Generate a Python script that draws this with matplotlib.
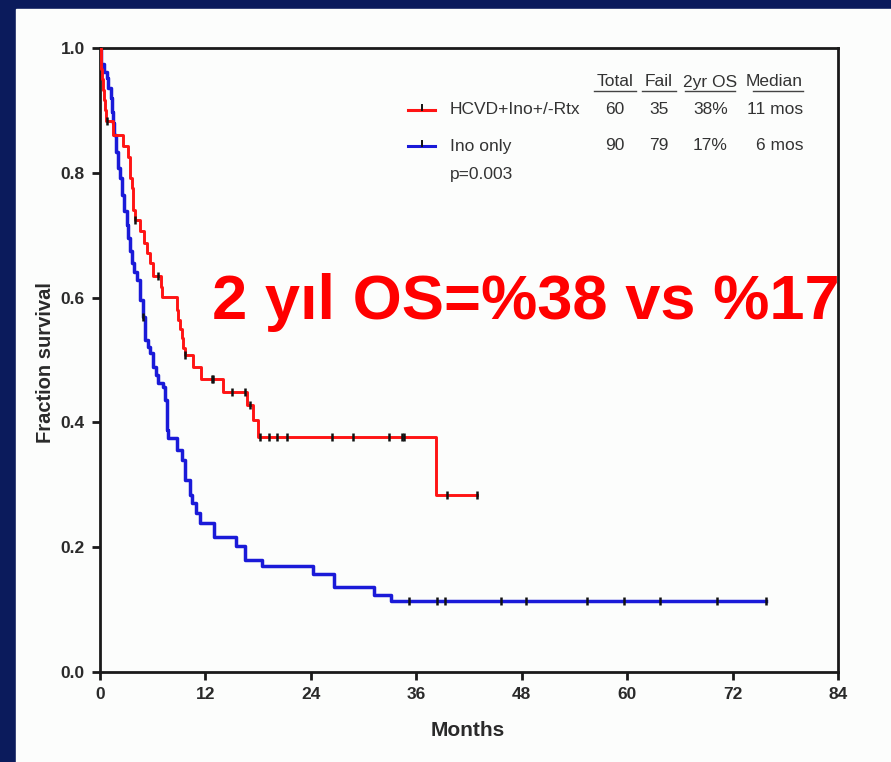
import matplotlib
matplotlib.use("Agg")
import matplotlib.pyplot as plt
from matplotlib.patches import Rectangle
from matplotlib.lines import Line2D

# HCVD+Ino+/-Rtx (red) step curve: time in months, survival after each step
red_time = [0, 0.06, 0.14, 0.23, 0.34, 0.46, 0.57, 0.66, 1.45, 2.65, 3.24, 3.36, 3.47,
            3.59, 3.70, 3.81, 3.93, 4.55, 5.01, 5.32, 5.69, 6.07, 6.91, 7.02, 8.73, 8.88,
            9.11, 9.28, 9.45, 9.62, 10.62, 11.50, 13.97, 16.70, 17.45, 17.98, 38.24, 42.91]
red_surv = [1.0, 0.983, 0.967, 0.95, 0.933, 0.917, 0.90, 0.883, 0.861, 0.843, 0.826, 0.809, 0.792,
            0.775, 0.758, 0.741, 0.724, 0.706, 0.687, 0.671, 0.655, 0.634, 0.617, 0.601, 0.58, 0.564,
            0.55, 0.535, 0.52, 0.508, 0.489, 0.470, 0.449, 0.428, 0.404, 0.377, 0.284, 0.284]
red_cens_t = [0.76, 3.98, 6.64, 9.67, 12.71, 12.90, 14.99, 16.50, 17.07, 18.21, 19.27, 20.11,
              21.25, 26.44, 28.83, 32.89, 34.41, 34.60, 39.50, 42.91]
red_cens_s = [0.883, 0.724, 0.634, 0.508, 0.470, 0.470, 0.449, 0.449, 0.428, 0.377, 0.377, 0.377,
              0.377, 0.377, 0.377, 0.377, 0.377, 0.377, 0.284, 0.284]

# Ino only (blue)
blue_time = [0, 0.06, 0.49, 0.76, 0.94, 1.25, 1.40, 1.51, 1.63, 1.79, 2.01, 2.28, 2.47, 2.77,
             3.04, 3.22, 3.41, 3.61, 3.87, 4.18, 4.55, 4.93, 5.12, 5.41, 5.69, 6.07, 6.37, 6.64,
             7.20, 7.40, 7.59, 7.68, 7.77, 8.73, 9.30, 9.67, 10.24, 10.47, 10.96, 11.34, 12.92,
             15.47, 16.54, 18.39, 24.30, 26.67, 31.17, 33.17, 75.86]
blue_surv = [1.0, 0.975, 0.962, 0.952, 0.936, 0.920, 0.898, 0.880, 0.861, 0.834, 0.807, 0.791,
             0.764, 0.738, 0.716, 0.695, 0.675, 0.655, 0.641, 0.628, 0.596, 0.569, 0.532, 0.521,
             0.511, 0.489, 0.476, 0.463, 0.457, 0.436, 0.414, 0.388, 0.375, 0.356, 0.340, 0.308,
             0.284, 0.271, 0.255, 0.238, 0.216, 0.202, 0.179, 0.170, 0.157, 0.136, 0.123, 0.113, 0.113]
blue_cens_t = [4.95, 35.12, 38.36, 39.27, 45.64, 48.45, 55.43, 59.61, 63.70, 70.19, 75.86]
blue_cens_s = [0.569, 0.113, 0.113, 0.113, 0.113, 0.113, 0.113, 0.113, 0.113, 0.113, 0.113]

x_ticks = [0, 12, 24, 36, 48, 60, 72, 84]
y_ticks = [0.0, 0.2, 0.4, 0.6, 0.8, 1.0]

header = ["Total", "Fail", "2yr OS", "Median"]
row_names = ["HCVD+Ino+/-Rtx", "Ino only"]
row_vals = [["60", "35", "38%", "11 mos"], ["90", "79", "17%", "6 mos"]]
p_text = "p=0.003"
big_text = "2 yıl OS=%38 vs %17"

W, H = 891, 762
plt.rcParams["font.family"] = ["Liberation Sans", "DejaVu Sans"]

fig = plt.figure(figsize=(W / 100, H / 100), dpi=100, facecolor="#0b1b5c")
fig.patches.append(Rectangle((16 / W, 0), 1, 1 - 9 / H, transform=fig.transFigure,
                             color="#fcfdfc", zorder=-5))

def fx(px):
    return px / W

def fy(py):
    return 1 - py / H

ax = fig.add_axes([fx(100), fy(672), (838 - 100) / W, (672 - 48) / H])
ax.set_facecolor("#fcfdfc")

ax.step(red_time, red_surv, where="post", color="#ff1414", lw=2.1, zorder=3)
ax.step(blue_time, blue_surv, where="post", color="#1a1ad8", lw=2.5, zorder=2)
ax.plot(red_cens_t, red_cens_s, ls="none", marker="|", ms=6, mew=1.8, color="#111111", zorder=4)
ax.plot(blue_cens_t, blue_cens_s, ls="none", marker="|", ms=6, mew=1.8, color="#111111", zorder=4)

ax.set_xlim(0, 84)
ax.set_ylim(0, 1.0)
ax.set_xticks(x_ticks)
ax.set_yticks(y_ticks)
ax.set_yticklabels([f"{v:.1f}" for v in y_ticks])
for s in ax.spines.values():
    s.set_linewidth(2)
    s.set_color("#1a1a1a")
ax.tick_params(direction="out", length=6, width=2, colors="#1a1a1a", labelsize=12.5, pad=5)
for lab in ax.get_xticklabels() + ax.get_yticklabels():
    lab.set_color("#2a2a2a")
    lab.set_fontweight("bold")

fig.text(fx(468), fy(731), "Months", ha="center", va="center", fontsize=15,
         fontweight="bold", color="#2a2a2a")
fig.text(fx(46), fy(363), "Fraction survival", ha="center", va="center", rotation=90,
         fontsize=14.5, fontweight="bold", color="#2a2a2a")

# legend table
col_x = [615, 659, 710, 803]
for i, h in enumerate(header):
    ha = "right" if i == 3 else "center"
    fig.text(fx(col_x[i]), fy(82), h, ha=ha, va="center", fontsize=12.5, color="#333333")
for i, h in enumerate(header):
    w = len(h) * 8.3
    x0 = col_x[i] - w if i == 3 else col_x[i] - w / 2
    fig.add_artist(Line2D([fx(x0), fx(x0 + w)], [fy(91), fy(91)], color="#444444", lw=1))

row_y = [110, 146]
row_colors = ["#ff1414", "#1a1ad8"]
for r in range(2):
    y = row_y[r]
    fig.add_artist(Line2D([fx(408), fx(435)], [fy(y), fy(y)], color=row_colors[r], lw=2.2))
    fig.add_artist(Line2D([fx(421.5), fx(421.5)], [fy(y), fy(y - 5)], color="#111111", lw=1.4))
    fig.text(fx(450), fy(y), row_names[r], ha="left", va="center", fontsize=12.5, color="#333333")
    for i, v in enumerate(row_vals[r]):
        if i == 3:
            fig.text(fx(803), fy(y), v, ha="right", va="center", fontsize=12.5, color="#333333")
        elif i == 2:
            fig.text(fx(728), fy(y), v, ha="right", va="center", fontsize=12.5, color="#333333")
        else:
            fig.text(fx(col_x[i]), fy(y), v, ha="center", va="center", fontsize=12.5, color="#333333")
fig.text(fx(450), fy(175), p_text, ha="left", va="center", fontsize=12.5, color="#333333")

fig.text(fx(212), fy(302), big_text, ha="left", va="center", fontsize=45.5, fontweight="bold",
         color="#ff0000")

fig.savefig("out.png", dpi=100, facecolor=fig.get_facecolor())
